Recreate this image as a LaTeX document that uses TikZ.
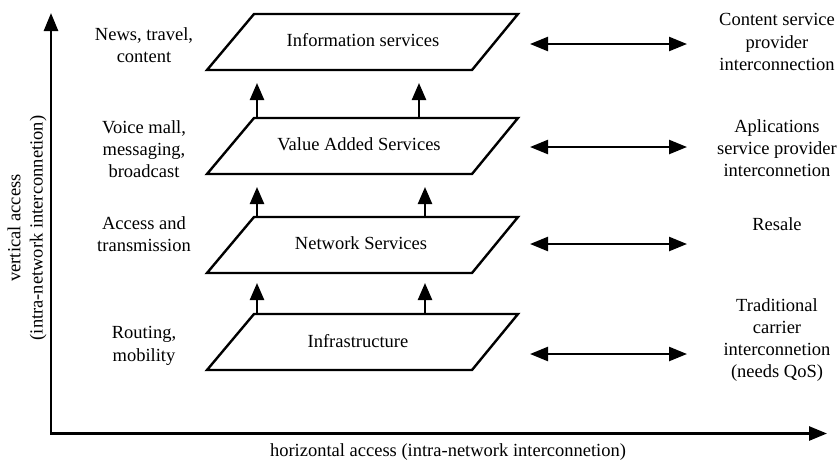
\documentclass[tikz,border=0pt]{standalone}
\usepackage{fontspec}
\setmainfont{Liberation Serif}
\usetikzlibrary{arrows.meta}
\begin{document}
\begin{tikzpicture}[x=1pt,y=-1pt,
  lbl/.style={align=center, font=\fontsize{18.5}{22.3}\selectfont, inner sep=0pt},
  layer/.style={draw, line width=2.4pt, line join=miter},
  upar/.style={-{Triangle[length=17pt,width=14pt]}, line width=2.4pt},
  dbl/.style={{Triangle[length=18pt,width=14pt]}-{Triangle[length=18pt,width=14pt]}, line width=2.4pt},
  axis/.style={{Triangle[length=18pt,width=14pt]}-{Triangle[length=18pt,width=14pt]}, line width=2.6pt, line join=miter}]
\useasboundingbox (0,0) rectangle (840,464);

% axes
\coordinate (ytip) at (51,13);
\coordinate (orig) at (51,433.5);
\coordinate (xtip) at (827,433.5);
\draw[axis] (ytip) -- (orig) -- (xtip);
\node[lbl, rotate=90] (vlab) at (27,228) {vertical access\\(intra-network interconnetion)};
\node[lbl] (hlab) at (448,452) {horizontal access (intra-network interconnetion)};

% layers
\coordinate (i1) at (254,14);  \coordinate (i2) at (518,14);  \coordinate (i3) at (472,70);  \coordinate (i4) at (207,70);
\coordinate (v1) at (254,118); \coordinate (v2) at (518,118); \coordinate (v3) at (472,174); \coordinate (v4) at (207,174);
\coordinate (n1) at (254,217); \coordinate (n2) at (518,217); \coordinate (n3) at (472,273); \coordinate (n4) at (207,273);
\coordinate (f1) at (254,314); \coordinate (f2) at (518,314); \coordinate (f3) at (472,370); \coordinate (f4) at (207,370);
\draw[layer] (i1) -- (i2) -- (i3) -- (i4) -- cycle;
\draw[layer] (v1) -- (v2) -- (v3) -- (v4) -- cycle;
\draw[layer] (n1) -- (n2) -- (n3) -- (n4) -- cycle;
\draw[layer] (f1) -- (f2) -- (f3) -- (f4) -- cycle;
\node[lbl] (info) at (363,40) {Information services};
\node[lbl] (vas) at (359,144) {Value Added Services};
\node[lbl] (ns) at (361,243) {Network Services};
\node[lbl] (infra) at (358,341) {Infrastructure};

% up arrows
\coordinate (a1s) at (257,118); \coordinate (a1t) at (257,83);
\coordinate (a2s) at (419,118); \coordinate (a2t) at (419,83);
\coordinate (b1s) at (257,217); \coordinate (b1t) at (257,187);
\coordinate (b2s) at (425,217); \coordinate (b2t) at (425,187);
\coordinate (c1s) at (257,314); \coordinate (c1t) at (257,283);
\coordinate (c2s) at (425,314); \coordinate (c2t) at (425,283);
\foreach \p in {a1,a2,b1,b2,c1,c2} \draw[upar] (\p s) -- (\p t);

% left labels
\node[lbl] (l1) at (144,45) {News, travel,\\content};
\node[lbl] (l2) at (144,149) {Voice mall,\\messaging,\\broadcast};
\node[lbl] (l3) at (144,234) {Access and\\transmission};
\node[lbl] (l4) at (144,346) {Routing,\\mobility};

% right double arrows
\coordinate (r1a) at (530,44);  \coordinate (r1b) at (687,44);
\coordinate (r2a) at (530,147); \coordinate (r2b) at (687,147);
\coordinate (r3a) at (530,244); \coordinate (r3b) at (687,244);
\coordinate (r4a) at (530,354); \coordinate (r4b) at (687,354);
\foreach \p in {r1,r2,r3,r4} \draw[dbl] (\p a) -- (\p b);

% right labels
\node[lbl] (t1) at (777,42) {Content service\\provider\\interconnection};
\node[lbl] (t2) at (777,148) {Aplications\\service provider\\interconnetion};
\node[lbl] (t3) at (777,224) {Resale};
\node[lbl] (t4) at (777,340) {Traditional\\carrier\\interconnetion\\(needs QoS)};
\end{tikzpicture}
\end{document}
